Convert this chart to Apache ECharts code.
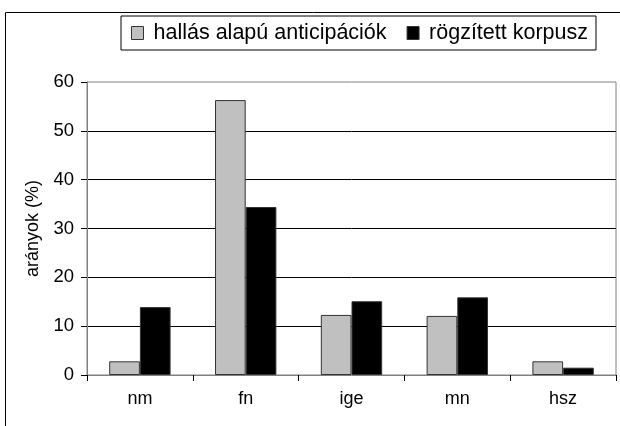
<html>
<head>
<meta charset="utf-8">
<script src="https://cdn.jsdelivr.net/npm/echarts@6/dist/echarts.min.js"></script>
<style>
  body { margin:0; padding:0; background:#fff; }
  #main { width:620px; height:426px; }
</style>
</head>
<body>
<div id="main"></div>
<script type="text/javascript">
// adatok
var categories = ['nm', 'fn', 'ige', 'mn', 'hsz'];
var hallasValues = [2.8, 56.3, 12.3, 12.1, 2.8];
var korpuszValues = [13.9, 34.4, 15.1, 15.9, 1.5];
var seriesNames = ['hallás alapú anticipációk', 'rögzített korpusz'];

var font = '"Liberation Sans", Arial, sans-serif';
var myChart = echarts.init(document.getElementById('main'), null, {renderer: 'canvas'});

myChart.setOption({
    animation: false,
    backgroundColor: '#fff',
    // külső keret
    graphic: [{
        type: 'rect',
        shape: {x: 5.5, y: 12.5, width: 800, height: 600},
        style: {fill: 'none', stroke: '#000', lineWidth: 1},
        silent: true
    }],
    legend: {
        left: 121,
        top: 16,
        padding: [6, 8, 6, 10],
        borderColor: '#000',
        borderWidth: 1,
        itemWidth: 12,
        itemHeight: 13,
        itemGap: 20,
        icon: 'rect',
        itemStyle: {borderColor: '#333', borderWidth: 1},
        textStyle: {fontFamily: font, fontSize: 21.5, color: '#000', padding: [0, 0, 0, 5]},
        data: seriesNames
    },
    grid: {
        left: 87,
        top: 82,
        right: 4,
        bottom: 51,
        show: true,
        borderColor: '#808080',
        borderWidth: 1
    },
    xAxis: {
        type: 'category',
        data: categories,
        axisLine: {lineStyle: {color: '#808080'}},
        axisTick: {show: true, length: 6, lineStyle: {color: '#000'}},
        axisLabel: {fontFamily: font, fontSize: 18, color: '#000', margin: 15}
    },
    yAxis: {
        type: 'value',
        min: 0,
        max: 60,
        interval: 10,
        name: 'arányok (%)',
        nameLocation: 'middle',
        nameGap: 41,
        nameTextStyle: {fontFamily: font, fontSize: 18, color: '#000'},
        axisLine: {show: true, lineStyle: {color: '#808080'}},
        axisTick: {show: true, length: 6, lineStyle: {color: '#000'}},
        axisLabel: {fontFamily: font, fontSize: 18.5, color: '#000', margin: 13},
        splitLine: {show: true, showMinLine: false, showMaxLine: false, lineStyle: {color: '#000', width: 1}}
    },
    series: [{
        name: seriesNames[0],
        type: 'bar',
        data: hallasValues,
        barCategoryGap: '42%',
        barGap: '0%',
        itemStyle: {color: '#c0c0c0', borderColor: '#333', borderWidth: 1}
    }, {
        name: seriesNames[1],
        type: 'bar',
        data: korpuszValues,
        itemStyle: {color: '#000', borderColor: '#333', borderWidth: 1}
    }]
});
</script>
</body>
</html>
